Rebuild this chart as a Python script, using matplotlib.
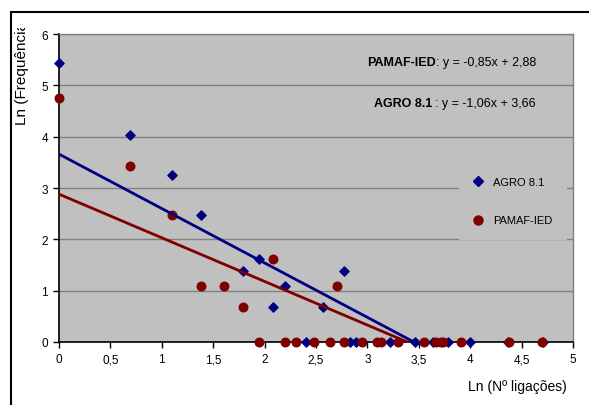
import matplotlib
matplotlib.use('Agg')
import matplotlib.pyplot as plt
from matplotlib.patches import Rectangle
from matplotlib.lines import Line2D
from matplotlib.transforms import Bbox
import numpy as np

plt.rcParams['font.family'] = ['Liberation Sans', 'DejaVu Sans']

# AGRO 8.1 (ln of number of links vs ln of frequency)
agro_x = [0, 0.693, 1.099, 1.386, 1.792, 1.946, 2.079, 2.197, 2.398, 2.565,
          2.773, 2.833, 2.890, 3.219, 3.466, 3.638, 3.784, 4.000, 4.369, 4.710]
agro_y = [5.44, 4.04, 3.26, 2.48, 1.39, 1.61, 0.69, 1.10, 0, 0.69,
          1.39, 0, 0, 0, 0, 0, 0, 0, 0, 0]

# PAMAF-IED
pamaf_x = [0, 0.693, 1.099, 1.386, 1.609, 1.792, 1.946, 2.079, 2.197, 2.303,
           2.485, 2.639, 2.708, 2.773, 2.944, 3.091, 3.135, 3.296, 3.555, 3.664,
           3.714, 3.738, 3.912, 4.382, 4.700]
pamaf_y = [4.75, 3.43, 2.48, 1.10, 1.10, 0.69, 0, 1.61, 0, 0,
           0, 0, 1.10, 0, 0, 0, 0, 0, 0, 0,
           0, 0, 0, 0, 0]

# trendlines (slope, intercept)
agro_fit = (-1.06, 3.66)
pamaf_fit = (-0.85, 2.88)

x_ticks = [0, 0.5, 1, 1.5, 2, 2.5, 3, 3.5, 4, 4.5, 5]
x_tick_labels = ['0', '0,5', '1', '1,5', '2', '2,5', '3', '3,5', '4', '4,5', '5']
y_ticks = [0, 1, 2, 3, 4, 5, 6]

blue = '#000080'
red = '#800000'
W, H = 589, 406

fig = plt.figure(figsize=(W / 100, H / 100), dpi=100)
ax = fig.add_axes([59 / W, 1 - 343 / H, (573 - 59) / W, (343 - 35) / H])
ax.set_facecolor('#C0C0C0')

ax.set_xlim(0, 5)
ax.set_ylim(0, 6)
ax.set_xticks(x_ticks)
ax.set_xticklabels(x_tick_labels)
ax.set_yticks(y_ticks)
ax.tick_params(direction='out', length=4, width=1, labelsize=8.5, pad=4, color='black')
ax.grid(axis='y', color='#808080', linewidth=1)
ax.set_axisbelow(True)
for s in ['top', 'right']:
    ax.spines[s].set_color('#808080')
    ax.spines[s].set_linewidth(1)
for s in ['left', 'bottom']:
    ax.spines[s].set_color('black')
    ax.spines[s].set_linewidth(1.2)

ax.scatter(agro_x, agro_y, marker='D', s=22, color=blue, zorder=3, clip_on=False)
ax.scatter(pamaf_x, pamaf_y, marker='o', s=38, color=red, zorder=3, clip_on=False)

xx = np.array([0, 4.71])
ax.plot(xx, agro_fit[0] * xx + agro_fit[1], color=blue, linewidth=2, zorder=4)
ax.plot(xx, pamaf_fit[0] * xx + pamaf_fit[1], color=red, linewidth=2, zorder=4)

# equations
t1 = ax.text(536 / W, 1 - 63 / H, ': y = -0,85x + 2,88', transform=fig.transFigure,
             ha='right', va='center', fontsize=9)
ax.annotate('PAMAF-IED', xy=(0, 0), xycoords=t1, ha='right', va='bottom',
            fontsize=9, fontweight='bold')
t2 = ax.text(536 / W, 1 - 104 / H, ': y = -1,06x + 3,66', transform=fig.transFigure,
             ha='right', va='center', fontsize=9)
ax.annotate('AGRO 8.1 ', xy=(0, 0), xycoords=t2, ha='right', va='bottom',
            fontsize=9, fontweight='bold')

handles = [Line2D([], [], linestyle='none', marker='D', markersize=5, color=blue),
           Line2D([], [], linestyle='none', marker='o', markersize=6.5, color=red)]
leg = ax.legend(handles, ['AGRO 8.1', 'PAMAF-IED'], loc='center',
                bbox_to_anchor=(513 / W, 1 - 202 / H), bbox_transform=fig.transFigure,
                fontsize=8, labelspacing=2.6, handlelength=0.8, handletextpad=1.0,
                borderpad=1.3, borderaxespad=0, frameon=True, fancybox=False)
leg.get_frame().set_facecolor('#C0C0C0')
leg.get_frame().set_edgecolor('none')
leg.get_frame().set_alpha(1)

# axis titles
fig.text(567 / W, 1 - 387 / H, 'Ln (Nº ligações)', ha='right', va='center', fontsize=10)
ylab = fig.text(22 / W, 1 - 125 / H, 'Ln (Frequência)', ha='center', va='bottom',
                rotation=90, fontsize=11)
ylab.set_clip_box(Bbox.from_extents(0, 0, W, H - 29))
ylab.set_clip_on(True)

# outer chart frame
fig.patches.append(Rectangle((10.5 / W, -0.2), 1.2, 1.2 - 13 / H, transform=fig.transFigure,
                             fill=False, edgecolor='black', linewidth=1.5))

fig.savefig('out.png', dpi=100)
